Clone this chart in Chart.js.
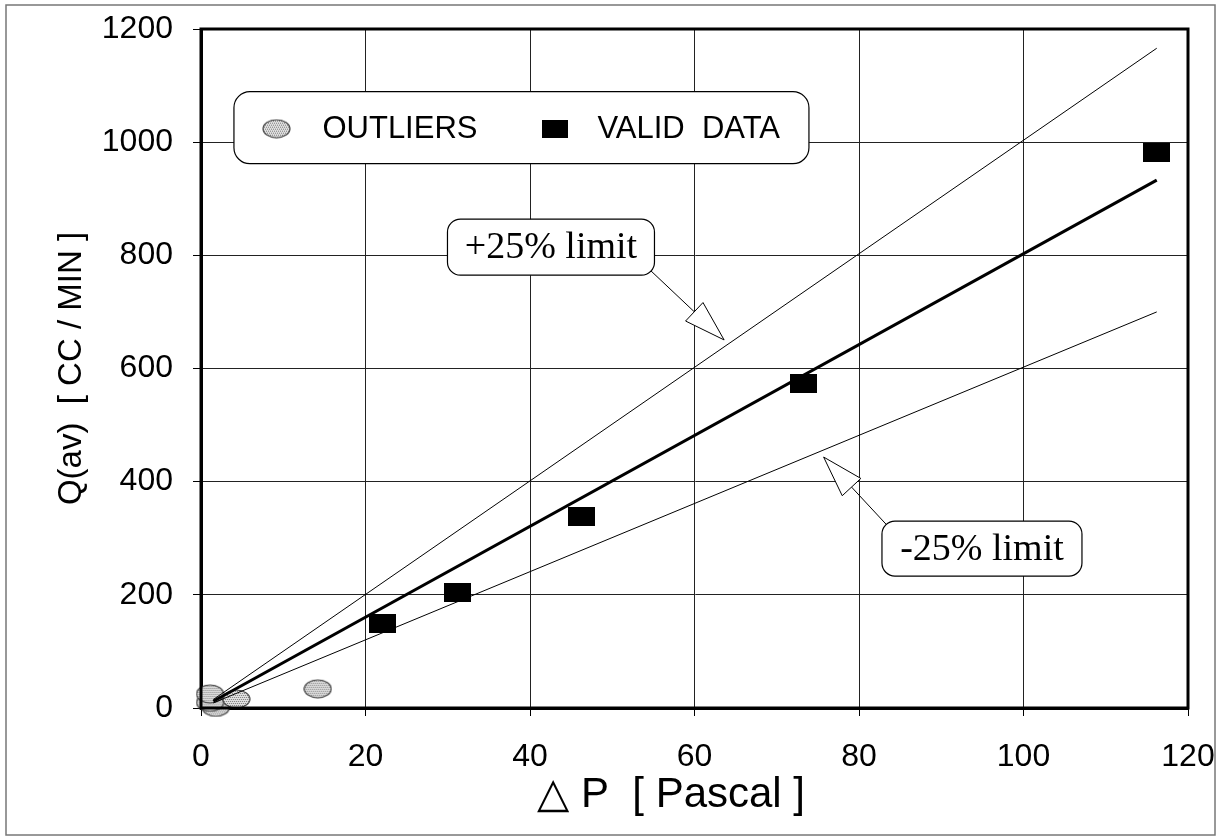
<!DOCTYPE html>
<html>
<head>
<meta charset="utf-8">
<script src="https://cdn.jsdelivr.net/npm/chart.js@4.4.1/dist/chart.umd.min.js"></script>
<style>
  html, body { margin: 0; padding: 0; background: #fff; }
  #wrap { width: 1220px; height: 839px; }
</style>
</head>
<body>
<div id="wrap"><canvas id="myChart"></canvas></div>
<script>
//Values

//Valid data points (black squares)
const validP = [22.1, 31.2, 46.3, 73.2, 116.2];
const validQ = [150, 205, 339, 574, 982];

//Outliers (grey ellipses near the origin)
const outlierP = [1.8, 1.1, 1.1, 4.3, 14.2];
const outlierQ = [1, 10, 25, 16, 34];

//Fitted line and the +/-25% limit lines, two end points each
const lineP = [1.5, 116.2];
const fitQ = [12, 933];
const upperQ = [15, 1166];
const lowerQ = [9, 700];

//Tick labels
const xTicks = [0, 20, 40, 60, 80, 100, 120];
const yTicks = [0, 200, 400, 600, 800, 1000, 1200];

const toPoints = (xs, ys) => xs.map((x, i) => ({x: x, y: ys[i]}));

//Marker images
function makeEllipse(w, h) {
    const c = document.createElement('canvas');
    c.width = w + 2; c.height = h + 2;
    const g = c.getContext('2d');
    g.beginPath();
    g.ellipse(c.width / 2, c.height / 2, w / 2, h / 2, 0, 0, Math.PI * 2);
    g.fillStyle = '#e0e0e0';
    g.fill();
    g.save();
    g.clip();
    g.fillStyle = '#7a7a7a';
    for (let yy = 0; yy < c.height; yy += 2) {
        for (let xx = (yy / 2) % 2; xx < c.width; xx += 2) {
            g.fillRect(xx, yy, 1, 1);
        }
    }
    g.restore();
    g.lineWidth = 1.2;
    g.strokeStyle = '#444';
    g.stroke();
    return c;
}
function makeRect(w, h) {
    const c = document.createElement('canvas');
    c.width = w; c.height = h;
    const g = c.getContext('2d');
    g.fillStyle = '#000';
    g.fillRect(0, 0, w, h);
    return c;
}
const ellipseImg = makeEllipse(27, 18);
const squareImg = makeRect(27, 19);
const legendSquare = makeRect(26, 18);

//Rounded box with text
function roundBox(ctx, cx, cy, w, h, r, text, font) {
    const x = cx - w / 2, y = cy - h / 2;
    ctx.beginPath();
    ctx.roundRect(x, y, w, h, r);
    ctx.fillStyle = '#fff';
    ctx.fill();
    ctx.lineWidth = 1.2;
    ctx.strokeStyle = '#000';
    ctx.stroke();
    if (text) {
        ctx.font = font;
        ctx.fillStyle = '#000';
        ctx.textAlign = 'center';
        ctx.textBaseline = 'middle';
        ctx.fillText(text, cx, cy + 1);
    }
}

//Arrow with open triangular head
function arrow(ctx, x0, y0, x1, y1, len, half) {
    const dx = x1 - x0, dy = y1 - y0;
    const d = Math.hypot(dx, dy);
    const ux = dx / d, uy = dy / d;
    const bx = x1 - ux * len, by = y1 - uy * len;
    ctx.lineWidth = 1;
    ctx.strokeStyle = '#000';
    ctx.beginPath();
    ctx.moveTo(x0, y0);
    ctx.lineTo(bx, by);
    ctx.stroke();
    ctx.beginPath();
    ctx.moveTo(x1, y1);
    ctx.lineTo(bx - uy * half, by + ux * half);
    ctx.lineTo(bx + uy * half, by - ux * half);
    ctx.closePath();
    ctx.fillStyle = '#fff';
    ctx.fill();
    ctx.stroke();
}

//Frame, legend and the two limit labels
const decorations = {
    id: 'decorations',
    beforeDraw(chart) {
        const ctx = chart.ctx;
        ctx.save();
        ctx.fillStyle = '#fff';
        ctx.fillRect(0, 0, chart.width, chart.height);
        ctx.restore();
    },
    afterDraw(chart) {
        const ctx = chart.ctx;
        const a = chart.chartArea;
        const sx = chart.scales.x, sy = chart.scales.y;
        const px = v => sx.getPixelForValue(v);
        const py = v => sy.getPixelForValue(v);
        ctx.save();

        //outer thin frame
        ctx.strokeStyle = '#777';
        ctx.lineWidth = 1.5;
        ctx.strokeRect(6, 5, 1209, 830);

        //plot frame
        ctx.strokeStyle = '#000';
        ctx.lineWidth = 3;
        ctx.strokeRect(a.left, a.top, a.right - a.left, a.bottom - a.top);

        //legend
        const lx = px(38.96), ly = py(1025.6);
        roundBox(ctx, lx, ly, 575, 72, 16, null);
        ctx.drawImage(ellipseImg, lx - 245 - ellipseImg.width / 2, ly + 1 - ellipseImg.height / 2);
        ctx.drawImage(legendSquare, lx + 34 - legendSquare.width / 2, ly + 1 - legendSquare.height / 2);
        ctx.font = '31px "Liberation Sans", Arial, sans-serif';
        ctx.fillStyle = '#000';
        ctx.textAlign = 'left';
        ctx.textBaseline = 'middle';
        ctx.fillText('OUTLIERS', lx - 199, ly + 2);
        ctx.fillText('VALID  DATA', lx + 76, ly + 2);

        //+25% label
        const serif = '38px "Liberation Serif", "Times New Roman", serif';
        const ux = px(42.55), uy = py(814.5);
        arrow(ctx, ux + 96, uy + 20, px(63.6), py(650.5), 41, 12.7);
        roundBox(ctx, ux, uy, 207, 56, 13, '+25% limit', serif);

        //-25% label
        const dx = px(94.95), dy = py(281.8);
        arrow(ctx, dx - 90, dy - 18, px(75.7), py(443.5), 41, 12.7);
        roundBox(ctx, dx, dy, 200, 55, 13, '-25% limit', serif);

        ctx.restore();
    }
};

//drop the label overhang padding so the layout padding alone sets the plot area
const noOverhang = s => {
    s.paddingTop = 0; s.paddingBottom = 0;
    s.paddingLeft = 0; s.paddingRight = 0;
};

const ctx = document.getElementById('myChart').getContext('2d');

const myChart = new Chart(ctx, {
    type: 'scatter',
    data: {
        datasets: [
            {
                label: 'VALID DATA',
                data: toPoints(validP, validQ),
                pointStyle: squareImg,
                order: 0
            },
            {
                label: 'Fit',
                type: 'line',
                data: toPoints(lineP, fitQ),
                borderColor: '#000',
                borderWidth: 3,
                pointRadius: 0,
                fill: false,
                order: 1
            },
            {
                label: '+25% limit',
                type: 'line',
                data: toPoints(lineP, upperQ),
                borderColor: '#000',
                borderWidth: 1,
                pointRadius: 0,
                fill: false,
                order: 2
            },
            {
                label: '-25% limit',
                type: 'line',
                data: toPoints(lineP, lowerQ),
                borderColor: '#000',
                borderWidth: 1,
                pointRadius: 0,
                fill: false,
                order: 3
            },
            {
                label: 'OUTLIERS',
                data: toPoints(outlierP, outlierQ),
                pointStyle: ellipseImg,
                clip: false,
                order: 4
            }
        ]
    },
    options: {
        responsive: true,
        maintainAspectRatio: false,
        animation: false,
        devicePixelRatio: 1,
        layout: {
            padding: {left: 0, right: 32, top: 29, bottom: 0}
        },
        scales: {
            x: {
                type: 'linear',
                min: 0,
                max: 120,
                afterBuildTicks: s => { s.ticks = xTicks.map(v => ({value: v})); },
                afterFit: s => { s.height = 131; noOverhang(s); },
                ticks: {
                    color: '#000',
                    padding: 22,
                    maxRotation: 0,
                    callback: v => String(v),
                    font: {family: '"Liberation Sans", Arial, sans-serif', size: 32}
                },
                grid: {
                    color: '#222',
                    lineWidth: 1,
                    drawTicks: true,
                    tickLength: 8,
                    tickColor: '#000'
                },
                border: {display: true, color: '#000', width: 3},
                title: {
                    display: true,
                    text: '\u25B3 P  [ Pascal ]    ',
                    color: '#000',
                    font: {family: '"Liberation Sans", Arial, sans-serif', size: 42},
                    padding: {top: 0, bottom: 18}
                }
            },
            y: {
                type: 'linear',
                min: 0,
                max: 1200,
                afterBuildTicks: s => { s.ticks = yTicks.map(v => ({value: v})); },
                afterFit: s => { s.width = 201; noOverhang(s); },
                ticks: {
                    color: '#000',
                    padding: 20,
                    callback: v => String(v),
                    font: {family: '"Liberation Sans", Arial, sans-serif', size: 32}
                },
                grid: {
                    color: '#222',
                    lineWidth: 1,
                    drawTicks: true,
                    tickLength: 8,
                    tickColor: '#000'
                },
                border: {display: true, color: '#000', width: 3},
                title: {
                    display: true,
                    text: 'Q(av)  [ CC / MIN ]',
                    color: '#000',
                    font: {family: '"Liberation Sans", Arial, sans-serif', size: 33},
                    padding: {top: 52, bottom: 0}
                }
            }
        },
        plugins: {
            legend: {display: false},
            tooltip: {enabled: false}
        }
    },
    plugins: [decorations]
});
</script>
</body>
</html>
